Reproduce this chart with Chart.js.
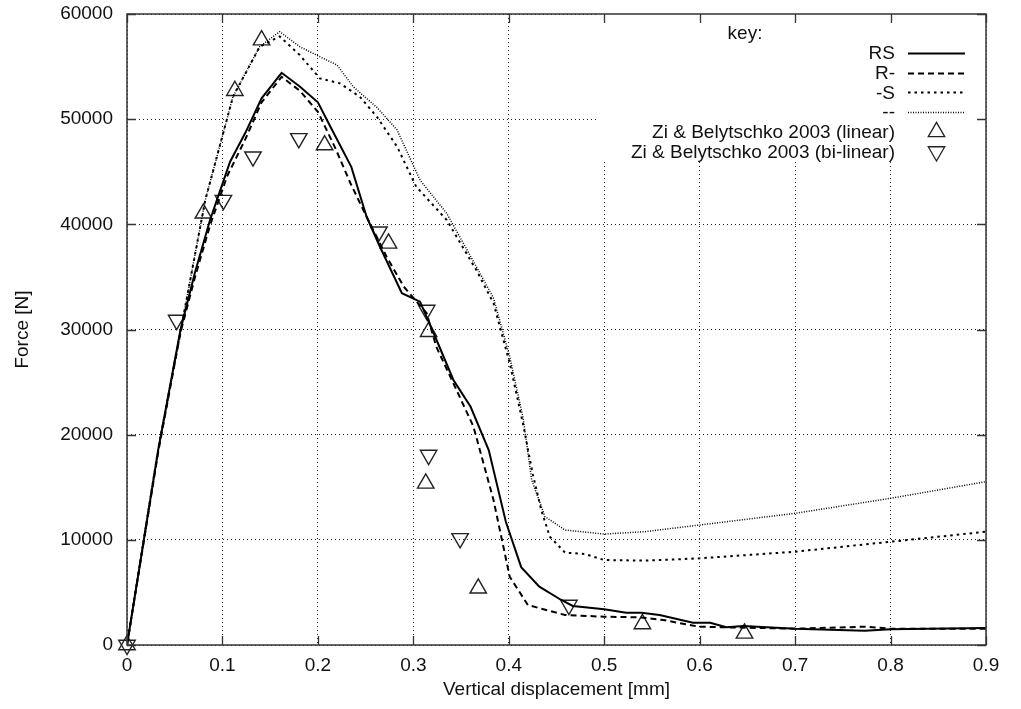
<!DOCTYPE html>
<html>
<head>
<meta charset="utf-8">
<title>Force vs vertical displacement</title>
<script src="https://cdn.jsdelivr.net/npm/chart.js@4.4.1/dist/chart.umd.min.js"></script>
<style>
  html, body { margin: 0; padding: 0; background: #fff; }
</style>
</head>
<body>
<canvas id="force-chart" width="1021" height="709"></canvas>
<script>
// Tick values on both axes
const xTicks = [0, 0.1, 0.2, 0.3, 0.4, 0.5, 0.6, 0.7, 0.8, 0.9];
const yTicks = [0, 10000, 20000, 30000, 40000, 50000, 60000];

// Simulation curves (vertical displacement [mm] -> force [N])
const rsX = [0, 0.033, 0.056, 0.071, 0.087, 0.108, 0.124, 0.141, 0.162, 0.181, 0.200, 0.213, 0.235, 0.251, 0.265, 0.288, 0.307, 0.322, 0.342, 0.360, 0.379, 0.397, 0.413, 0.432, 0.455, 0.467, 0.500, 0.523, 0.539, 0.558, 0.593, 0.611, 0.628, 0.646, 0.700, 0.773, 0.800, 0.900];
const rsY = [0, 18700, 29950, 35340, 40410, 45950, 48700, 51980, 54410, 53100, 51600, 49300, 45460, 40720, 37870, 33450, 32650, 29500, 25200, 22650, 18540, 11700, 7400, 5550, 4280, 3710, 3390, 3070, 3070, 2850, 2120, 2120, 1680, 1800, 1550, 1360, 1490, 1610];

const rMinusX = [0, 0.033, 0.056, 0.071, 0.087, 0.105, 0.124, 0.141, 0.162, 0.181, 0.200, 0.218, 0.234, 0.251, 0.272, 0.290, 0.314, 0.324, 0.342, 0.363, 0.384, 0.401, 0.420, 0.459, 0.500, 0.537, 0.562, 0.599, 0.628, 0.700, 0.773, 0.800, 0.900];
const rMinusY = [0, 18500, 29700, 34900, 39900, 44600, 48100, 51600, 54030, 52700, 50700, 47300, 43930, 40720, 36920, 34070, 31540, 28370, 24880, 20760, 13790, 6490, 3800, 2850, 2690, 2630, 2380, 1740, 1680, 1550, 1740, 1550, 1550];

const minusSX = [0, 0.033, 0.061, 0.082, 0.111, 0.139, 0.160, 0.181, 0.202, 0.223, 0.244, 0.262, 0.283, 0.303, 0.335, 0.366, 0.384, 0.401, 0.415, 0.425, 0.434, 0.443, 0.459, 0.480, 0.500, 0.542, 0.600, 0.700, 0.800, 0.900];
const minusSY = [0, 18800, 32170, 42300, 52130, 56890, 57870, 56100, 53880, 53410, 52130, 50200, 47390, 43580, 40410, 35650, 32500, 26800, 21000, 16300, 12840, 10300, 8780, 8650, 8080, 8020, 8240, 8870, 9820, 10770];

const noneX = [0, 0.033, 0.061, 0.082, 0.111, 0.139, 0.160, 0.181, 0.202, 0.220, 0.237, 0.262, 0.283, 0.307, 0.335, 0.366, 0.384, 0.401, 0.415, 0.424, 0.438, 0.459, 0.500, 0.542, 0.600, 0.700, 0.800, 0.900];
const noneY = [0, 18800, 32170, 42300, 52130, 56890, 58320, 56890, 55940, 55150, 53090, 51100, 48970, 44210, 41040, 35970, 33000, 27400, 21600, 15690, 12200, 10930, 10550, 10770, 11410, 12520, 13950, 15530];

// Reference results, Zi & Belytschko 2003
const linearX = [0, 0.080, 0.113, 0.141, 0.207, 0.274, 0.316, 0.313, 0.368, 0.540, 0.647];
const linearY = [0, 41050, 52700, 57520, 47540, 38190, 29790, 15370, 5390, 2000, 1110];
const bilinearX = [0, 0.052, 0.101, 0.132, 0.180, 0.264, 0.314, 0.316, 0.349, 0.463];
const bilinearY = [0, 30900, 42300, 46430, 48170, 39300, 31850, 18060, 10140, 3800];

const FONT = { family: '"Liberation Sans", Arial, sans-serif', size: 19 };
const INK = '#111';

// Key box (gnuplot style, top right, opaque)
const KEY_LEFT = 598;
const KEY_BOTTOM = 162;
const KEY_TEXT_RIGHT = 895;
const KEY_SAMPLE_LEFT = 908;
const KEY_SAMPLE_RIGHT = 965;
const KEY_FIRST_ROW = 53;
const KEY_ROW_STEP = 19.7;

function toPoints(xs, ys) {
    return xs.map((x, i) => ({ x: x, y: ys[i] }));
}

function curve(label, xs, ys, dash, width) {
    return {
        label: label,
        data: toPoints(xs, ys),
        borderColor: '#000',
        borderWidth: width,
        borderDash: dash,
        pointRadius: 0,
        fill: false,
        tension: 0,
        showLine: true
    };
}

function markers(label, xs, ys, rotation) {
    return {
        label: label,
        data: toPoints(xs, ys),
        showLine: false,
        pointStyle: 'triangle',
        rotation: rotation,
        pointRadius: 9.5,
        pointBorderWidth: 1.4,
        pointBorderColor: '#222',
        pointBackgroundColor: 'rgba(0,0,0,0)',
        clip: false
    };
}

const frameAndKey = {
    id: 'frameAndKey',
    beforeDatasetsDraw(chart) {
        // blank the grid behind the key
        const ctx = chart.ctx;
        const a = chart.chartArea;
        ctx.save();
        ctx.fillStyle = '#fff';
        ctx.fillRect(KEY_LEFT, a.top, a.right - KEY_LEFT, KEY_BOTTOM - a.top);
        ctx.restore();
    },
    afterDraw(chart) {
        const ctx = chart.ctx;
        const a = chart.chartArea;
        const xs = chart.scales.x;
        const ys = chart.scales.y;
        ctx.save();

        // frame
        ctx.strokeStyle = '#333';
        ctx.lineWidth = 1.5;
        ctx.setLineDash([]);
        ctx.strokeRect(a.left, a.top, a.right - a.left, a.bottom - a.top);

        // inward ticks on all four sides
        ctx.lineWidth = 1.3;
        ctx.beginPath();
        xTicks.forEach(v => {
            const px = Math.round(xs.getPixelForValue(v)) + 0.5;
            ctx.moveTo(px, a.bottom); ctx.lineTo(px, a.bottom - 9);
            ctx.moveTo(px, a.top); ctx.lineTo(px, a.top + 9);
        });
        yTicks.forEach(v => {
            const py = Math.round(ys.getPixelForValue(v)) + 0.5;
            ctx.moveTo(a.left, py); ctx.lineTo(a.left + 9, py);
            ctx.moveTo(a.right, py); ctx.lineTo(a.right - 9, py);
        });
        ctx.stroke();

        // key
        ctx.font = FONT.size + 'px ' + FONT.family;
        ctx.fillStyle = INK;
        ctx.textBaseline = 'middle';
        ctx.textAlign = 'center';
        ctx.fillText('key:', 745, 34);
        ctx.textAlign = 'right';
        chart.data.datasets.forEach((ds, i) => {
            const y = KEY_FIRST_ROW + i * KEY_ROW_STEP;
            ctx.fillStyle = INK;
            ctx.fillText(ds.label, KEY_TEXT_RIGHT, y + 1);
            if (ds.showLine) {
                ctx.save();
                ctx.strokeStyle = ds.borderColor;
                ctx.lineWidth = ds.borderWidth;
                ctx.setLineDash(ds.borderDash || []);
                ctx.beginPath();
                ctx.moveTo(KEY_SAMPLE_LEFT, Math.round(y) + 0.5);
                ctx.lineTo(KEY_SAMPLE_RIGHT, Math.round(y) + 0.5);
                ctx.stroke();
                ctx.restore();
            } else {
                ctx.save();
                ctx.strokeStyle = ds.pointBorderColor;
                ctx.fillStyle = 'rgba(0,0,0,0)';
                Chart.helpers.drawPoint(ctx, {
                    pointStyle: ds.pointStyle,
                    rotation: ds.rotation,
                    radius: ds.pointRadius,
                    borderWidth: ds.pointBorderWidth
                }, (KEY_SAMPLE_LEFT + KEY_SAMPLE_RIGHT) / 2, y);
                ctx.restore();
            }
        });
        ctx.restore();
    }
};

const canvas = document.getElementById('force-chart');
const ctx = canvas.getContext('2d');

new Chart(ctx, {
    type: 'line',
    data: {
        datasets: [
            curve('RS', rsX, rsY, [], 2),
            curve('R-', rMinusX, rMinusY, [6, 4], 2),
            curve('-S', minusSX, minusSY, [2.5, 4], 2),
            curve('--', noneX, noneY, [1, 1.5], 1.5),
            markers('Zi & Belytschko 2003 (linear)', linearX, linearY, 0),
            markers('Zi & Belytschko 2003 (bi-linear)', bilinearX, bilinearY, 180)
        ]
    },
    options: {
        responsive: false,
        animation: false,
        devicePixelRatio: 1,
        layout: { padding: { top: 14, right: 35, left: 0, bottom: 0 } },
        plugins: {
            legend: { display: false },
            tooltip: { enabled: false }
        },
        scales: {
            x: {
                type: 'linear',
                min: 0,
                max: 0.9,
                afterBuildTicks: scale => { scale.ticks = xTicks.map(v => ({ value: v })); },
                afterFit: scale => {
                    scale.height = 64;
                    scale.paddingLeft = 0;
                    scale.paddingRight = 0;
                },
                ticks: {
                    callback: v => String(v),
                    color: INK,
                    font: FONT,
                    padding: 9,
                    maxRotation: 0,
                    autoSkip: false
                },
                grid: { color: '#222', lineWidth: 1, drawTicks: false },
                border: { display: false, dash: [1, 3] },
                title: {
                    display: true,
                    text: 'Vertical displacement [mm]',
                    color: INK,
                    font: FONT,
                    padding: { top: 0, bottom: 8 }
                }
            },
            y: {
                type: 'linear',
                min: 0,
                max: 60000,
                afterBuildTicks: scale => { scale.ticks = yTicks.map(v => ({ value: v })); },
                afterFit: scale => {
                    // fixed width, and no extra room for the top label
                    scale.width = 127;
                    scale.paddingTop = 0;
                    scale.paddingBottom = 0;
                },
                ticks: {
                    callback: v => String(v),
                    color: INK,
                    font: FONT,
                    padding: 14,
                    autoSkip: false
                },
                grid: { color: '#222', lineWidth: 1, drawTicks: false },
                border: { display: false, dash: [1, 3] },
                title: {
                    display: true,
                    text: 'Force [N]',
                    color: INK,
                    font: FONT,
                    padding: { top: 11, bottom: 0 }
                }
            }
        }
    },
    plugins: [frameAndKey]
});
</script>
</body>
</html>
